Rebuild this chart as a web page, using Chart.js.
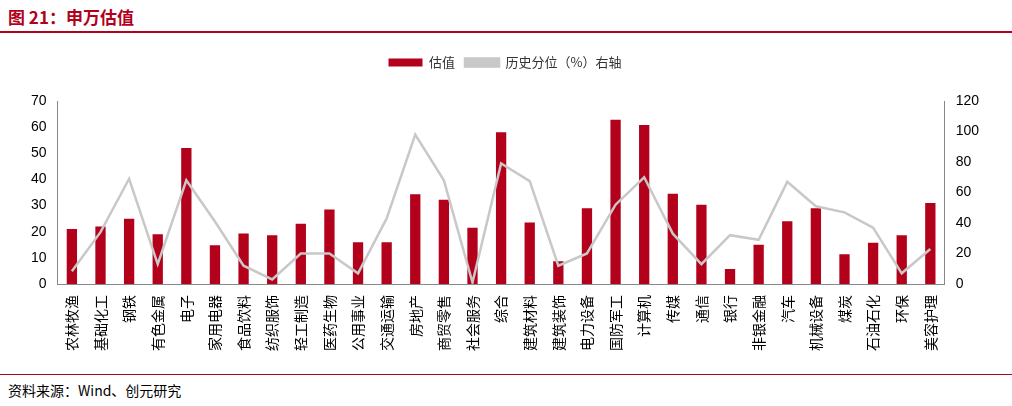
<!DOCTYPE html>
<html><head><meta charset="utf-8">
<script src="https://cdn.jsdelivr.net/npm/chart.js@4"></script>
<style>
body{margin:0;width:1012px;height:406px;background:#fff;font-family:"Noto Sans CJK SC",sans-serif;position:relative;overflow:hidden}
#t{position:absolute;left:8px;top:4px;font-size:17px;font-weight:bold;color:#b3001b}
#l1{position:absolute;left:0;top:31px;width:1012px;height:2px;background:#b3001b}
#l2{position:absolute;left:0;top:374px;width:1012px;height:1px;background:#b3001b}
#f{position:absolute;left:8px;top:380px;font-size:14px;color:#000}
#c{position:absolute;left:0;top:42px;width:1012px;height:330px}
</style></head><body>
<div id="t">图 21：申万估值</div><div id="l1"></div>
<div id="c"><canvas id="cv"></canvas></div>
<div id="l2"></div><div id="f">资料来源：Wind、创元研究</div>
<script>
const categories=["农林牧渔","基础化工","钢铁","有色金属","电子","家用电器","食品饮料","纺织服饰","轻工制造","医药生物","公用事业","交通运输","房地产","商贸零售","社会服务","综合","建筑材料","建筑装饰","电力设备","国防军工","计算机","传媒","通信","银行","非银金融","汽车","机械设备","煤炭","石油石化","环保","美容护理"];
const valuation=[21,22,25,19,52,14.8,19.3,18.6,23,28.5,16,16,34.3,32.2,21.5,58,23.5,8.7,29,62.8,60.8,34.5,30.3,5.7,15,24,29,11.4,15.8,18.6,31];
const percentile=[8.4,34,69,13,68,41,12,3,20,20,7,43,98,68,1,79,67.5,12,20,52,70,33,13,32,29,67,51,47,37,7,23];
const leftTicks=[0,10,20,30,40,50,60,70];
const rightTicks=[0,20,40,60,80,100,120];
new Chart(document.getElementById('cv'),{
data:{labels:categories,datasets:[
{type:'bar',label:'估值',data:valuation,backgroundColor:'#b3001b',yAxisID:'y',barPercentage:0.6,categoryPercentage:0.6,order:2},
{type:'line',label:'历史分位（%）右轴',data:percentile,borderColor:'#c8c8c8',backgroundColor:'#c8c8c8',borderWidth:2.5,pointRadius:0,tension:0,yAxisID:'y1',order:1}]},
options:{responsive:true,maintainAspectRatio:false,animation:false,
layout:{padding:{left:28,right:30,top:4,bottom:18}},
plugins:{legend:{labels:{sort:(a,b)=>a.datasetIndex-b.datasetIndex,padding:10,font:{size:13,family:"Noto Sans CJK SC"},color:'#333',boxWidth:34,boxHeight:8},
 onClick:null},tooltip:{enabled:false},
 },
scales:{
x:{grid:{display:false},border:{color:'#888'},ticks:{color:'#000',font:{size:14,family:"Noto Sans CJK SC"},maxRotation:90,minRotation:90,autoSkip:false}},
y:{min:0,max:70,afterBuildTicks:a=>{a.ticks=leftTicks.map(v=>({value:v}))},grid:{display:false},border:{color:'#888'},ticks:{color:'#000',font:{size:14}}},
y1:{position:'right',min:0,max:120,afterBuildTicks:a=>{a.ticks=rightTicks.map(v=>({value:v}))},grid:{display:false},border:{color:'#888'},ticks:{color:'#000',font:{size:14}}}
}},
plugins:[{id:'legendGap',beforeInit(c){const f=c.legend.fit;c.legend.fit=function(){f.bind(c.legend)();this.height+=22;}}}]
});
</script></body></html>
